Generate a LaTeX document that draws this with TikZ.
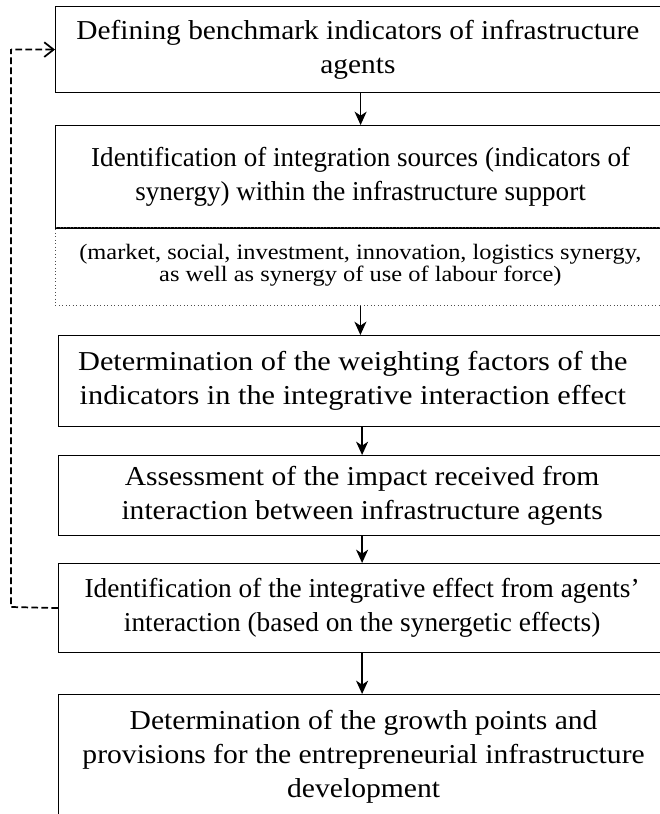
\documentclass[tikz,border=0pt]{standalone}
\usepackage{fontspec}
\usepackage{graphicx}
\setmainfont{Liberation Serif}
\usetikzlibrary{arrows.meta}
\newcommand\widetext[2]{\scalebox{#1}[1]{\begin{tabular}{@{}c@{}}#2\end{tabular}}}
\begin{document}
\begin{tikzpicture}[x=0.75pt,y=-0.75pt,
  box/.style={draw, line width=0.9pt, anchor=north west, inner sep=0pt,
    font=\fontsize{20.5pt}{25.5pt}\selectfont},
  subbox/.style={draw=black!70, line width=0.6pt, dotted, anchor=north west, inner sep=0pt,
    font=\fontsize{16.5pt}{16.6pt}\selectfont},
  flow/.style={line width=1.3pt, -{Stealth[length=10pt,width=9pt,inset=3pt]}},
  back/.style={line width=1.3pt, dash pattern=on 5pt off 2.5pt, -{Straight Barb[length=7pt,width=11pt]}}]
\useasboundingbox (0,0) rectangle (660,814);

\node[box, minimum width=457.5pt, minimum height=64.5pt] (b1) at (55,6)
  {\widetext{1.075}{Defining benchmark indicators of infrastructure\\agents}\kern4pt};
\node[box, minimum width=457.5pt, minimum height=76.5pt] (b2) at (55,125)
  {\widetext{0.99}{Identification of integration sources (indicators of\\synergy) within the infrastructure support}};
\node[subbox, minimum width=457.5pt, minimum height=58.5pt] (b2s) at (55,227)
  {\widetext{1.11}{(market, social, investment, innovation, logistics synergy,\\as well as synergy of use of labour force)}};
\draw[line width=0.9pt] (b2.south west) -- (b2.south east);
\node[box, minimum width=455.25pt, minimum height=68.25pt] (b3) at (58,335)
  {\widetext{1.11}{Determination of the weighting factors of the\\indicators in the integrative interaction effect}\kern14pt};
\node[box, minimum width=455.25pt, minimum height=60pt] (b4) at (58,455)
  {\widetext{1.08}{Assessment of the impact received from\\interaction between infrastructure agents}};
\node[box, minimum width=455.25pt, minimum height=66.75pt] (b5) at (58,563)
  {\widetext{1.0}{Identification of the integrative effect from agents'\\interaction (based on the synergetic effects)}};
\node[box, minimum width=457.5pt, minimum height=93pt] (b6) at (58,694)
  {\widetext{1.083}{Determination of the growth points and\\provisions for the entrepreneurial infrastructure\\development}};

\draw[flow] (b1.south) -- (b1.south |- b2.north);
\draw[flow] (b2s.south) -- (b2s.south |- b3.north);
\draw[flow] (b3.south) -- (b3.south |- b4.north);
\draw[flow] (b4.south) -- (b4.south |- b5.north);
\draw[flow] (b5.south) -- (b5.south |- b6.north);

\coordinate (c1) at (11,607);
\coordinate (c2) at (11,49);
\draw[back] (b5.west) -- (c1) -- (c2) -- (c2 |- b1.west) -- (b1.west);
\end{tikzpicture}
\end{document}
